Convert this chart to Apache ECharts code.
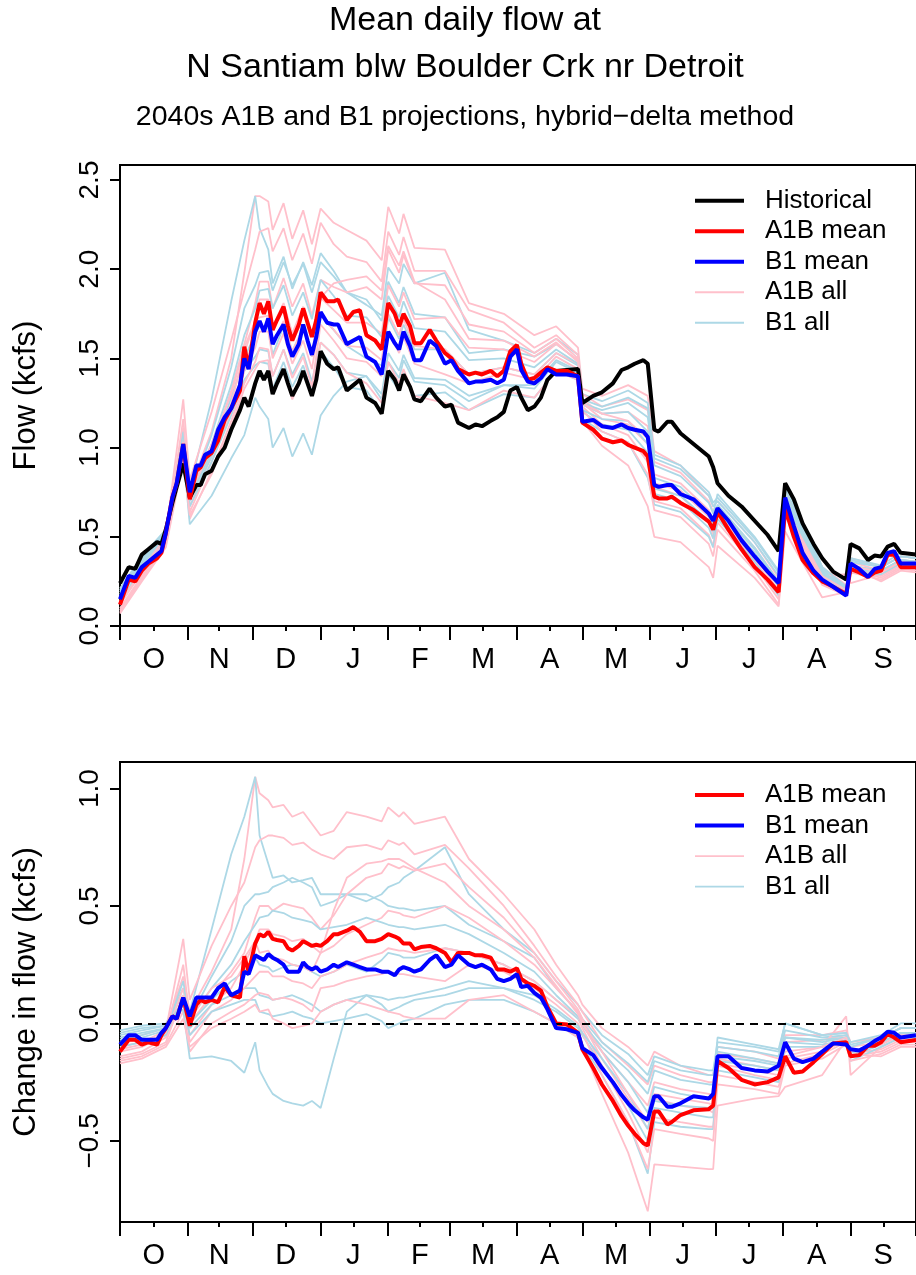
<!DOCTYPE html>
<html><head><meta charset="utf-8">
<script src="https://cdn.jsdelivr.net/npm/echarts@6/dist/echarts.min.js"></script>
<style>html,body{margin:0;padding:0;background:#fff}#c{width:916px;height:1275px}</style>
</head><body><div id="c"></div>
<script>
// ---- tick labels ----
const monthLabels = ['O','N','D','J','F','M','A','M','J','J','A','S'];
const monthStarts = [0,31,61,92,123,151,182,212,243,273,304,335,365];
const monthMids = [15.5,45.5,76,107,137.5,166.5,197,227.5,258,288.5,319.5,350];
const flowTicks = [0,0.5,1,1.5,2,2.5];
const changeTicks = [-0.5,0,0.5,1];

// ---- day of water year (0 = Oct 1) ----
const days = [0,4,7,10,13,17,19,21,24,26,
  29,32,35,37,39,42,45,48,51,55,
  57,59,62,64,66,68,70,72,75,77,
  79,82,84,86,88,90,92,95,98,100,
  104,107,110,113,117,120,123,126,128,130,
  133,135,138,142,145,149,152,155,160,163,
  166,170,173,176,179,182,184,187,190,193,
  196,200,205,210,212,217,221,226,230,233,
  236,240,242,245,247,251,253,257,263,270,
  272,274,279,285,291,297,302,305,309,313,
  318,322,327,333,335,339,343,346,349,352,
  355,358,365];

// ---- mean daily flow (kcfs) ----
const historical = [0.24,0.33,0.32,0.40,0.43,0.47,0.46,0.54,0.69,0.78,
  0.91,0.72,0.79,0.79,0.85,0.87,0.95,1.00,1.10,1.21,
  1.28,1.23,1.36,1.43,1.38,1.43,1.30,1.36,1.44,1.36,
  1.29,1.36,1.43,1.36,1.29,1.38,1.54,1.47,1.44,1.45,
  1.32,1.35,1.38,1.28,1.25,1.19,1.43,1.38,1.32,1.41,
  1.34,1.27,1.26,1.33,1.28,1.23,1.24,1.14,1.11,1.13,
  1.12,1.15,1.17,1.20,1.32,1.34,1.28,1.21,1.23,1.28,
  1.38,1.43,1.435,1.44,1.25,1.29,1.31,1.36,1.435,1.45,
  1.47,1.49,1.47,1.10,1.09,1.145,1.145,1.08,1.02,0.95,
  0.89,0.80,0.73,0.67,0.59,0.51,0.42,0.80,0.71,0.575,
  0.46,0.38,0.305,0.26,0.46,0.435,0.37,0.395,0.39,0.445,
  0.46,0.41,0.40];
const a1bMean = [0.12,0.26,0.25,0.31,0.35,0.38,0.41,0.52,0.72,0.80,
  1.02,0.71,0.87,0.89,0.94,0.97,1.04,1.155,1.22,1.32,
  1.566,1.45,1.70,1.81,1.75,1.82,1.66,1.715,1.79,1.68,
  1.60,1.69,1.78,1.70,1.62,1.715,1.87,1.82,1.82,1.83,
  1.715,1.76,1.77,1.63,1.60,1.55,1.81,1.75,1.68,1.75,
  1.68,1.585,1.585,1.66,1.60,1.53,1.50,1.44,1.41,1.42,
  1.41,1.43,1.40,1.43,1.54,1.575,1.47,1.38,1.39,1.42,
  1.45,1.43,1.43,1.40,1.14,1.10,1.05,1.03,1.04,1.015,
  1.00,0.98,0.95,0.725,0.715,0.715,0.725,0.69,0.65,0.585,
  0.54,0.64,0.54,0.43,0.33,0.26,0.19,0.66,0.50,0.37,
  0.295,0.25,0.22,0.18,0.32,0.30,0.275,0.30,0.31,0.40,
  0.40,0.33,0.33];
const b1Mean = [0.15,0.28,0.27,0.33,0.36,0.40,0.42,0.52,0.72,0.80,
  1.02,0.75,0.90,0.90,0.96,0.98,1.10,1.17,1.22,1.35,
  1.50,1.44,1.65,1.71,1.65,1.725,1.58,1.63,1.69,1.58,
  1.51,1.58,1.69,1.60,1.52,1.62,1.76,1.70,1.69,1.69,
  1.58,1.60,1.62,1.51,1.48,1.41,1.65,1.585,1.55,1.65,
  1.57,1.49,1.49,1.60,1.57,1.47,1.49,1.43,1.36,1.37,
  1.37,1.38,1.36,1.38,1.51,1.55,1.435,1.37,1.36,1.39,
  1.44,1.41,1.41,1.40,1.145,1.155,1.12,1.11,1.13,1.11,
  1.10,1.09,1.06,0.79,0.78,0.79,0.79,0.74,0.71,0.63,
  0.59,0.66,0.59,0.48,0.39,0.305,0.24,0.72,0.56,0.41,
  0.31,0.26,0.22,0.17,0.35,0.32,0.275,0.32,0.33,0.41,
  0.42,0.35,0.35];

// ---- individual runs: change from historical (kcfs) ----
const runDays = [0,10,21,29,32,42,51,57,62,64,
  68,70,75,79,84,88,92,98,104,113,120,123,128,130,135,
  149,160,176,190,200,210,212,221,233,242,245,257,270,272,274,291,302,305,322,333,335,349,358,365];
const a1bRuns = [
  [-0.08,-0.05,-0.02,0.20,0.05,0.22,0.40,0.70,1.05,0.98,
   0.95,0.92,0.93,0.88,0.90,0.85,0.80,0.82,0.90,0.88,0.86,0.92,0.88,0.90,0.85,
   0.88,0.70,0.55,0.40,0.25,0.12,0.08,-0.02,-0.10,-0.18,-0.12,-0.18,-0.22,-0.22,-0.10,-0.12,-0.15,-0.05,-0.05,-0.03,-0.08,-0.06,-0.02,-0.02],
  [-0.10,-0.08,-0.03,0.36,0.10,0.33,0.50,0.60,0.75,0.78,
   0.80,0.80,0.79,0.76,0.77,0.74,0.72,0.70,0.75,0.76,0.74,0.78,0.76,0.77,0.72,
   0.76,0.66,0.50,0.33,0.20,0.08,0.05,-0.08,-0.18,-0.26,-0.18,-0.22,-0.25,-0.25,-0.13,-0.15,-0.17,-0.08,-0.07,-0.05,-0.10,-0.08,-0.04,-0.04],
  [-0.12,-0.10,-0.05,0.15,0.0,0.12,0.22,0.30,0.45,0.50,
   0.50,0.48,0.51,0.50,0.49,0.45,0.40,0.46,0.55,0.62,0.64,0.68,0.66,0.67,0.65,
   0.68,0.58,0.45,0.30,0.18,0.06,0.02,-0.12,-0.25,-0.35,-0.25,-0.28,-0.30,-0.31,-0.15,-0.18,-0.20,-0.12,-0.10,0.03,-0.22,-0.10,-0.06,-0.06],
  [-0.14,-0.12,-0.06,0.10,-0.05,0.08,0.15,0.25,0.35,0.40,
   0.40,0.38,0.37,0.35,0.36,0.33,0.30,0.33,0.38,0.42,0.45,0.48,0.47,0.46,0.45,
   0.50,0.45,0.35,0.25,0.15,0.05,0.0,-0.15,-0.32,-0.45,-0.32,-0.35,-0.37,-0.38,-0.18,-0.22,-0.24,-0.15,-0.12,-0.07,-0.13,-0.11,-0.07,-0.07],
  [-0.15,-0.13,-0.08,0.12,-0.08,0.05,0.10,0.15,0.20,0.22,
   0.22,0.20,0.20,0.18,0.17,0.15,0.20,0.22,0.25,0.28,0.30,0.32,0.31,0.31,0.30,
   0.32,0.30,0.25,0.18,0.10,0.03,-0.02,-0.18,-0.38,-0.55,-0.40,-0.42,-0.44,-0.44,-0.22,-0.25,-0.27,-0.17,-0.13,-0.08,-0.14,-0.12,-0.08,-0.08],
  [-0.16,-0.14,-0.09,0.05,-0.12,0.0,0.05,0.08,0.12,0.13,
   0.12,0.10,0.11,0.10,0.08,0.05,0.15,0.16,0.18,0.20,0.21,0.22,0.21,0.21,0.20,
   0.18,0.25,0.22,0.15,0.08,0.0,-0.04,-0.22,-0.42,-0.62,-0.45,-0.47,-0.49,-0.50,-0.26,-0.28,-0.30,-0.18,-0.15,-0.09,-0.16,-0.13,-0.09,-0.09],
  [-0.17,-0.15,-0.10,0.02,-0.10,-0.02,0.02,0.05,0.08,0.05,
   0.06,0.02,0.00,-0.02,-0.01,0.00,0.05,0.08,0.10,0.08,0.06,0.05,0.04,0.03,0.02,
   0.02,0.10,0.12,0.05,0.0,-0.06,-0.10,-0.30,-0.55,-0.80,-0.60,-0.61,-0.62,-0.62,-0.35,-0.32,-0.31,-0.27,-0.22,-0.07,-0.13,-0.14,-0.10,-0.10],
  [-0.11,-0.09,-0.04,0.25,0.02,0.15,0.20,0.28,0.35,0.30,
   0.31,0.28,0.27,0.25,0.24,0.22,0.30,0.48,0.62,0.68,0.69,0.70,0.70,0.69,0.66,
   0.60,0.50,0.40,0.28,0.16,0.04,0.0,-0.12,-0.30,-0.42,-0.30,-0.32,-0.34,-0.35,-0.17,-0.20,-0.22,-0.14,-0.10,-0.06,-0.12,-0.09,-0.05,-0.05]
];
const b1Runs = [
  [-0.03,-0.01,0.0,0.12,0.05,0.40,0.72,0.88,1.05,0.80,
   0.68,0.62,0.63,0.60,0.61,0.62,0.55,0.55,0.55,0.52,0.55,0.58,0.60,0.62,0.65,
   0.75,0.55,0.40,0.30,0.18,0.08,0.05,-0.05,-0.13,-0.22,-0.14,-0.18,-0.20,-0.20,-0.08,-0.10,-0.12,0.0,-0.05,-0.04,-0.08,-0.05,0.0,0.0],
  [-0.05,-0.03,-0.01,0.15,0.02,0.20,0.35,0.50,0.55,0.55,
   0.56,0.58,0.60,0.62,0.60,0.58,0.50,0.52,0.55,0.55,0.52,0.50,0.49,0.49,0.48,
   0.50,0.42,0.35,0.28,0.15,0.05,0.02,-0.08,-0.17,-0.25,-0.16,-0.20,-0.22,-0.22,-0.10,-0.12,-0.14,-0.03,-0.06,-0.05,-0.10,-0.06,-0.02,-0.02],
  [-0.08,-0.06,-0.03,0.18,0.0,0.10,0.18,0.22,0.28,0.25,
   0.24,0.22,0.24,0.25,0.24,0.22,0.20,0.22,0.25,0.22,0.27,0.30,0.29,0.28,0.28,
   0.32,0.30,0.25,0.18,0.10,0.02,-0.01,-0.12,-0.25,-0.38,-0.27,-0.30,-0.32,-0.32,-0.12,-0.15,-0.17,-0.06,-0.07,-0.06,-0.12,-0.08,-0.04,-0.04],
  [-0.10,-0.08,-0.05,0.10,-0.02,0.08,0.12,0.15,0.15,0.12,
   0.11,0.10,0.11,0.12,0.10,0.08,0.05,0.08,0.10,0.12,0.11,0.10,0.11,0.11,0.12,
   0.15,0.18,0.15,0.10,0.05,-0.02,-0.05,-0.18,-0.35,-0.50,-0.36,-0.38,-0.40,-0.40,-0.16,-0.18,-0.20,-0.08,-0.09,-0.07,-0.14,-0.09,-0.05,-0.05],
  [-0.06,-0.04,-0.02,0.08,-0.05,0.05,0.08,0.10,0.10,0.05,
   0.04,0.03,0.04,0.05,0.03,0.02,0.00,0.01,0.02,0.04,0.01,-0.02,0.00,0.01,0.02,
   0.08,0.10,0.10,0.05,0.0,-0.06,-0.09,-0.22,-0.42,-0.64,-0.42,-0.44,-0.45,-0.45,-0.20,-0.23,-0.25,-0.10,-0.10,-0.08,-0.16,-0.10,-0.06,-0.06],
  [-0.04,-0.02,-0.01,0.06,-0.15,-0.14,-0.16,-0.21,-0.08,-0.20,
   -0.27,-0.30,-0.33,-0.34,-0.35,-0.33,-0.36,-0.15,0.05,0.12,0.08,0.05,0.07,0.08,0.10,
   0.12,0.15,0.15,0.12,0.06,-0.01,-0.04,-0.15,-0.30,-0.45,-0.33,-0.35,-0.36,-0.36,-0.14,-0.16,-0.18,-0.06,-0.08,-0.06,-0.13,-0.08,-0.04,-0.04],
  [-0.07,-0.05,-0.02,0.10,0.02,0.15,0.25,0.35,0.42,0.45,
   0.46,0.48,0.47,0.45,0.44,0.43,0.40,0.41,0.42,0.45,0.43,0.42,0.41,0.41,0.40,
   0.42,0.38,0.30,0.22,0.12,0.03,0.0,-0.10,-0.20,-0.30,-0.20,-0.24,-0.26,-0.26,-0.06,-0.09,-0.11,0.0,-0.05,-0.04,-0.09,-0.06,-0.02,-0.02]
];

// ---- build series data from the arrays ----
const FONT = "'Liberation Sans', Arial, Helvetica, sans-serif";
const histAt = {}; days.forEach((d, i) => { histAt[d] = historical[i]; });
const r3 = v => Math.round(v * 1000) / 1000;
const flowPairs = vals => days.map((d, i) => [d, vals[i]]);
const changePairs = vals => days.map((d, i) => [d, r3(vals[i] - historical[i])]);
const runFlowPairs = run => runDays.map((d, i) => [d, r3(histAt[d] + run[i])]);
const runChangePairs = run => runDays.map((d, i) => [d, run[i]]);

const PINK = '#FFC0CB', LBLUE = '#ADD8E6';
function line(name, data, color, width, xi, yi, z) {
  return { type: 'line', name, data, xAxisIndex: xi, yAxisIndex: yi, symbol: 'none', showSymbol: false,
    lineStyle: { color, width }, itemStyle: { color }, z: z, silent: true, animation: false, clip: true };
}
const series = [];
const nRuns = Math.max(a1bRuns.length, b1Runs.length);
for (let k = 0; k < nRuns; k++) {
  if (a1bRuns[k]) series.push(line('A1B all', runFlowPairs(a1bRuns[k]), PINK, 1.8, 0, 0, 2));
  if (b1Runs[k]) series.push(line('B1 all', runFlowPairs(b1Runs[k]), LBLUE, 1.8, 0, 0, 2));
}
series.push(line('Historical', flowPairs(historical), '#000000', 4, 0, 0, 3));
series.push(line('A1B mean', flowPairs(a1bMean), '#FF0000', 4, 0, 0, 4));
series.push(line('B1 mean', flowPairs(b1Mean), '#0000FF', 4, 0, 0, 5));
for (let k = 0; k < nRuns; k++) {
  if (a1bRuns[k]) series.push(line('A1B all', runChangePairs(a1bRuns[k]), PINK, 1.8, 2, 1, 2));
  if (b1Runs[k]) series.push(line('B1 all', runChangePairs(b1Runs[k]), LBLUE, 1.8, 2, 1, 2));
}
const zeroLine = line('zero', [], '#000', 0, 2, 1, 3);
zeroLine.markLine = { symbol: 'none', silent: true, animation: false, label: { show: false },
  lineStyle: { color: '#000', width: 2, type: [8, 6] }, data: [{ yAxis: 0 }] };
series.push(zeroLine);
series.push(line('A1B mean', changePairs(a1bMean), '#FF0000', 4, 2, 1, 4));
series.push(line('B1 mean', changePairs(b1Mean), '#0000FF', 4, 2, 1, 5));

const tickStyle = { color: '#000', width: 2 };
function monthAxes(gridIndex) {
  return [{
    type: 'value', gridIndex, min: 0, max: 365, position: 'bottom',
    axisLine: { show: false, onZero: false }, splitLine: { show: false },
    axisTick: { show: true, customValues: monthStarts, length: 14, lineStyle: tickStyle },
    axisLabel: { show: true, customValues: monthMids, margin: 19, fontSize: 29, color: '#000', fontFamily: FONT,
      formatter: v => { let bi = 0; monthMids.forEach((m, i) => { if (Math.abs(m - v) < Math.abs(monthMids[bi] - v)) bi = i; }); return monthLabels[bi]; } }
  }, {
    type: 'value', gridIndex, min: 0, max: 365, position: 'bottom',
    axisLine: { show: false, onZero: false }, splitLine: { show: false },
    axisTick: { show: true, customValues: monthMids, length: 5, lineStyle: tickStyle },
    axisLabel: { show: false }
  }];
}
const fmt = v => (v < 0 ? '\u2212' : '') + Math.abs(v).toFixed(1);

const legendBase = { orient: 'vertical', left: 693, itemWidth: 49, itemHeight: 14, itemGap: 0, padding: 0,
  selectedMode: false, itemStyle: { opacity: 0, borderWidth: 0 },
  textStyle: { fontSize: 26, color: '#000', fontFamily: FONT, lineHeight: 30.5, padding: [0, 0, 0, 16] } };
const legendItem = (name, width) => ({ name, lineStyle: { width } });

const option = {
  animation: false,
  backgroundColor: '#ffffff',
  grid: [
    { left: 120, top: 165, width: 808, height: 461, show: true, borderColor: '#000', borderWidth: 2, backgroundColor: 'transparent' },
    { left: 120, top: 762, width: 808, height: 460, show: true, borderColor: '#000', borderWidth: 2, backgroundColor: 'transparent' }
  ],
  xAxis: [...monthAxes(0), ...monthAxes(1)],
  yAxis: [{
    type: 'value', gridIndex: 0, min: 0, max: 2.584,
    axisLine: { show: false, onZero: false }, splitLine: { show: false },
    axisTick: { show: true, customValues: flowTicks, length: 10, lineStyle: tickStyle },
    axisLabel: { show: true, customValues: flowTicks, rotate: 90, margin: 16, fontSize: 28, color: '#000', fontFamily: FONT, formatter: fmt }
  }, {
    type: 'value', gridIndex: 1, min: -0.8455, max: 1.113,
    axisLine: { show: false, onZero: false }, splitLine: { show: false },
    axisTick: { show: true, customValues: changeTicks, length: 10, lineStyle: tickStyle },
    axisLabel: { show: true, customValues: changeTicks, rotate: 90, margin: 16, fontSize: 28, color: '#000', fontFamily: FONT, formatter: fmt }
  }],
  legend: [
    Object.assign({}, legendBase, { top: 185.5, data: [legendItem('Historical', 4), legendItem('A1B mean', 4), legendItem('B1 mean', 4), legendItem('A1B all', 1.8), legendItem('B1 all', 1.8)] }),
    Object.assign({}, legendBase, { top: 779.8, data: [legendItem('A1B mean', 4), legendItem('B1 mean', 4), legendItem('A1B all', 1.8), legendItem('B1 all', 1.8)] })
  ],
  graphic: [
    { type: 'text', x: 465, y: 21, style: { text: 'Mean daily flow at', font: '34px ' + FONT, fill: '#000', align: 'center', verticalAlign: 'middle' } },
    { type: 'text', x: 465, y: 68, style: { text: 'N Santiam blw Boulder Crk nr Detroit', font: '34px ' + FONT, fill: '#000', align: 'center', verticalAlign: 'middle' } },
    { type: 'text', x: 465, y: 117, style: { text: '2040s A1B and B1 projections, hybrid\u2212delta method', font: '28.5px ' + FONT, fill: '#000', align: 'center', verticalAlign: 'middle' } },
    { type: 'text', x: 26, y: 395.5, rotation: Math.PI / 2, style: { text: 'Flow (kcfs)', font: '31px ' + FONT, fill: '#000', align: 'center', verticalAlign: 'middle' } },
    { type: 'text', x: 26, y: 992, rotation: Math.PI / 2, style: { text: 'Change in flow (kcfs)', font: '31px ' + FONT, fill: '#000', align: 'center', verticalAlign: 'middle' } }
  ],
  series
};
const chart = echarts.init(document.getElementById('c'), null, { renderer: 'canvas', width: 916, height: 1275 });
chart.setOption(option);
</script></body></html>
